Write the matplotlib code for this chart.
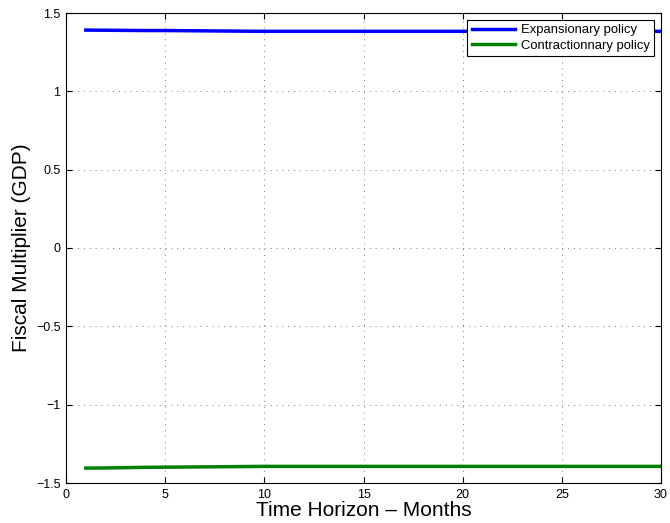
import numpy as np
import matplotlib
matplotlib.use("Agg")
import matplotlib.pyplot as plt

plt.rcParams['font.family'] = ['Liberation Sans', 'DejaVu Sans']

# horizon in months
months = list(range(1, 31))

# fiscal multipliers
expansionary = [1.391, 1.390, 1.389, 1.388, 1.388, 1.387, 1.386, 1.385, 1.384, 1.383,
                1.383, 1.383, 1.383, 1.383, 1.383, 1.383, 1.383, 1.383, 1.383, 1.383,
                1.383, 1.383, 1.383, 1.383, 1.383, 1.383, 1.383, 1.383, 1.383, 1.383]
contractionary = [-1.405, -1.404, -1.402, -1.400, -1.399, -1.398, -1.397, -1.396, -1.395, -1.394,
                  -1.394, -1.394, -1.394, -1.394, -1.394, -1.394, -1.394, -1.394, -1.394, -1.394,
                  -1.394, -1.394, -1.394, -1.394, -1.394, -1.394, -1.394, -1.394, -1.394, -1.394]

fig = plt.figure(figsize=(6.7, 5.23), dpi=100)
ax = fig.add_axes([66/670, 1 - 483/523, (661-66)/670, (483-13)/523])

ax.plot(months, expansionary, color='#0000ff', lw=2.5, label='Expansionary policy')
ax.plot(months, contractionary, color='#008000', lw=2.5, label='Contractionnary policy')

ax.set_xlim(0, 30)
ax.set_ylim(-1.5, 1.5)
ax.set_xticks([0, 5, 10, 15, 20, 25, 30])
ax.set_yticks([-1.5, -1, -0.5, 0, 0.5, 1, 1.5])
ax.set_yticklabels(['\u22121.5', '\u22121', '\u22120.5', '0', '0.5', '1', '1.5'])
ax.tick_params(direction='in', top=True, right=True, labelsize=9, length=4, pad=4)
ax.grid(True, linestyle=(0, (1, 5)), color='#777777', lw=0.7)
for s in ax.spines.values():
    s.set_linewidth(0.8)

ax.set_xlabel('Time Horizon \u2013 Months', fontsize=15, labelpad=0)
ax.set_ylabel('Fiscal Multiplier (GDP)', fontsize=15, labelpad=3.5)

leg = ax.legend(loc='upper right', fontsize=9.4, fancybox=False, framealpha=1,
                edgecolor='black', borderpad=0.35, handlelength=3.3, labelspacing=0.25,
                handletextpad=0.45, borderaxespad=0.5)
leg.get_frame().set_linewidth(0.8)

fig.savefig('out.png', dpi=100)
